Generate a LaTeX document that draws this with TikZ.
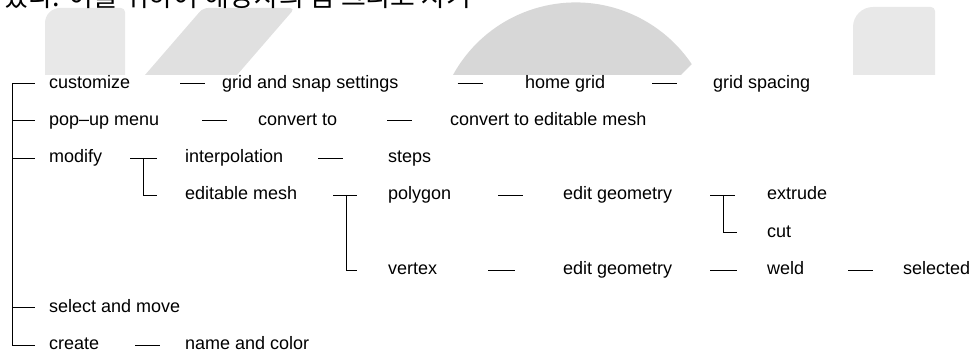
\documentclass[tikz,border=0pt]{standalone}
\usepackage{fontspec}
\setmainfont{Liberation Sans}
\newfontfamily\krfont{Noto Sans CJK KR}

\definecolor{paleA}{HTML}{E8E8E8}
\definecolor{paleB}{HTML}{E0E0E0}
\definecolor{paleC}{HTML}{D7D7D7}

\tikzset{
  item/.style={anchor=west, inner sep=0pt, text height=14.4pt, text depth=5pt,
    font=\fontsize{18}{20}\selectfont},
  link/.style={draw=black, line width=0.8pt},
  toptext/.style={anchor=base west, inner sep=0pt, font=\krfont\fontsize{27}{30}\selectfont}
}

\begin{document}
\begin{tikzpicture}
  \useasboundingbox (0pt,0pt) rectangle (975pt,-355pt);
  % page behind the figure
  \fill[paleA] (45pt,-75pt) -- (45pt,-23pt) arc[start angle=180,end angle=90,radius=15pt]
    -- (121pt,-8pt) arc[start angle=90,end angle=0,radius=4pt] -- (125pt,-75pt) -- cycle;
  \fill[paleB] (145pt,-75pt) [rounded corners=5pt] -- (203pt,-8pt) -- (295pt,-8pt) [sharp corners] -- (237pt,-75pt) -- cycle;
  \fill[paleC] (453pt,-75pt) arc[start angle=151.2,end angle=34,radius=140pt] -- (681pt,-75pt) -- cycle;
  \fill[paleA] (853pt,-75pt) -- (853pt,-27pt) arc[start angle=180,end angle=90,radius=20pt]
    -- (931pt,-7pt) arc[start angle=90,end angle=0,radius=4pt] -- (935pt,-75pt) -- cycle;
  \node[toptext] (krline) at (3pt,-7pt) {였다. 이를 위하여 해당자의 몸 그리고 자기};

  % menu tree
  \draw (49pt, -83.5pt)node[item](customize){customize};
  \draw (222pt, -83.5pt)node[item](gridsnap){grid and snap settings};
  \draw (525pt, -83.5pt)node[item](homegrid){home grid};
  \draw (713pt, -83.5pt)node[item](gridspacing){grid spacing};
  \draw (49pt, -120.5pt)node[item](popup){pop--up menu};
  \draw (258pt, -120.5pt)node[item](convto){convert to};
  \draw (450pt, -120.5pt)node[item](convmesh){convert to editable mesh};
  \draw (49pt, -158pt)node[item](modify){modify};
  \draw (185pt, -158pt)node[item](interp){interpolation};
  \draw (388pt, -158pt)node[item](steps){steps};
  \draw (185pt, -195pt)node[item](editmesh){editable mesh};
  \draw (388pt, -195pt)node[item](polygon){polygon};
  \draw (563pt, -195pt)node[item](polygeo){edit geometry};
  \draw (767pt, -195pt)node[item](extrude){extrude};
  \draw (767pt, -232.5pt)node[item](cut){cut};
  \draw (388pt, -270pt)node[item](vertex){vertex};
  \draw (563pt, -270pt)node[item](vertgeo){edit geometry};
  \draw (767pt, -270pt)node[item](weld){weld};
  \draw (903pt, -270pt)node[item](selected){selected};
  \draw (49pt, -307.5pt)node[item](selmove){select and move};
  \draw (49pt, -345pt)node[item](create){create};
  \draw (185pt, -345pt)node[item](namecolor){name and color};

  \coordinate (trunk) at (12pt, -83.5pt);
  \coordinate (modfork) at (143pt, -158pt);
  \coordinate (meshfork) at (346pt, -195pt);
  \coordinate (geofork) at (723pt, -195pt);

  \path[link] (trunk) edge[shorten >=14pt] (customize);
  \foreach \leaf in {popup,modify,selmove,create}
    \draw[link, shorten >=14pt] (trunk) |- (\leaf);
  \path[link] (customize) edge[shorten <=50pt, shorten >=17pt] (gridsnap);
  \path[link] (gridsnap) edge[shorten <=59pt, shorten >=42pt] (homegrid);
  \path[link] (homegrid) edge[shorten <=47pt, shorten >=36pt] (gridspacing);
  \path[link] (popup) edge[shorten <=43pt, shorten >=31pt] (convto);
  \path[link] (convto) edge[shorten <=50pt, shorten >=38pt] (convmesh);
  \path[link] (modify) edge[shorten <=28pt, shorten >=28pt] (interp);
  \draw[link, shorten >=28pt] (modfork) |- (editmesh);
  \path[link] (interp) edge[shorten <=35pt, shorten >=45pt] (steps);
  \path[link] (editmesh) edge[shorten <=36pt, shorten >=31pt] (polygon);
  \draw[link, shorten >=31pt] (meshfork) |- (vertex);
  \path[link] (polygon) edge[shorten <=47pt, shorten >=40pt] (polygeo);
  \path[link] (polygeo) edge[shorten <=38pt, shorten >=32pt] (extrude);
  \draw[link, shorten >=30pt] (geofork) |- (cut);
  \path[link] (vertex) edge[shorten <=51pt, shorten >=48pt] (vertgeo);
  \path[link] (vertgeo) edge[shorten <=38pt, shorten >=30pt] (weld);
  \path[link] (weld) edge[shorten <=44pt, shorten >=30pt] (selected);
  \path[link] (create) edge[shorten <=36pt, shorten >=25pt] (namecolor);
\end{tikzpicture}
\end{document}
